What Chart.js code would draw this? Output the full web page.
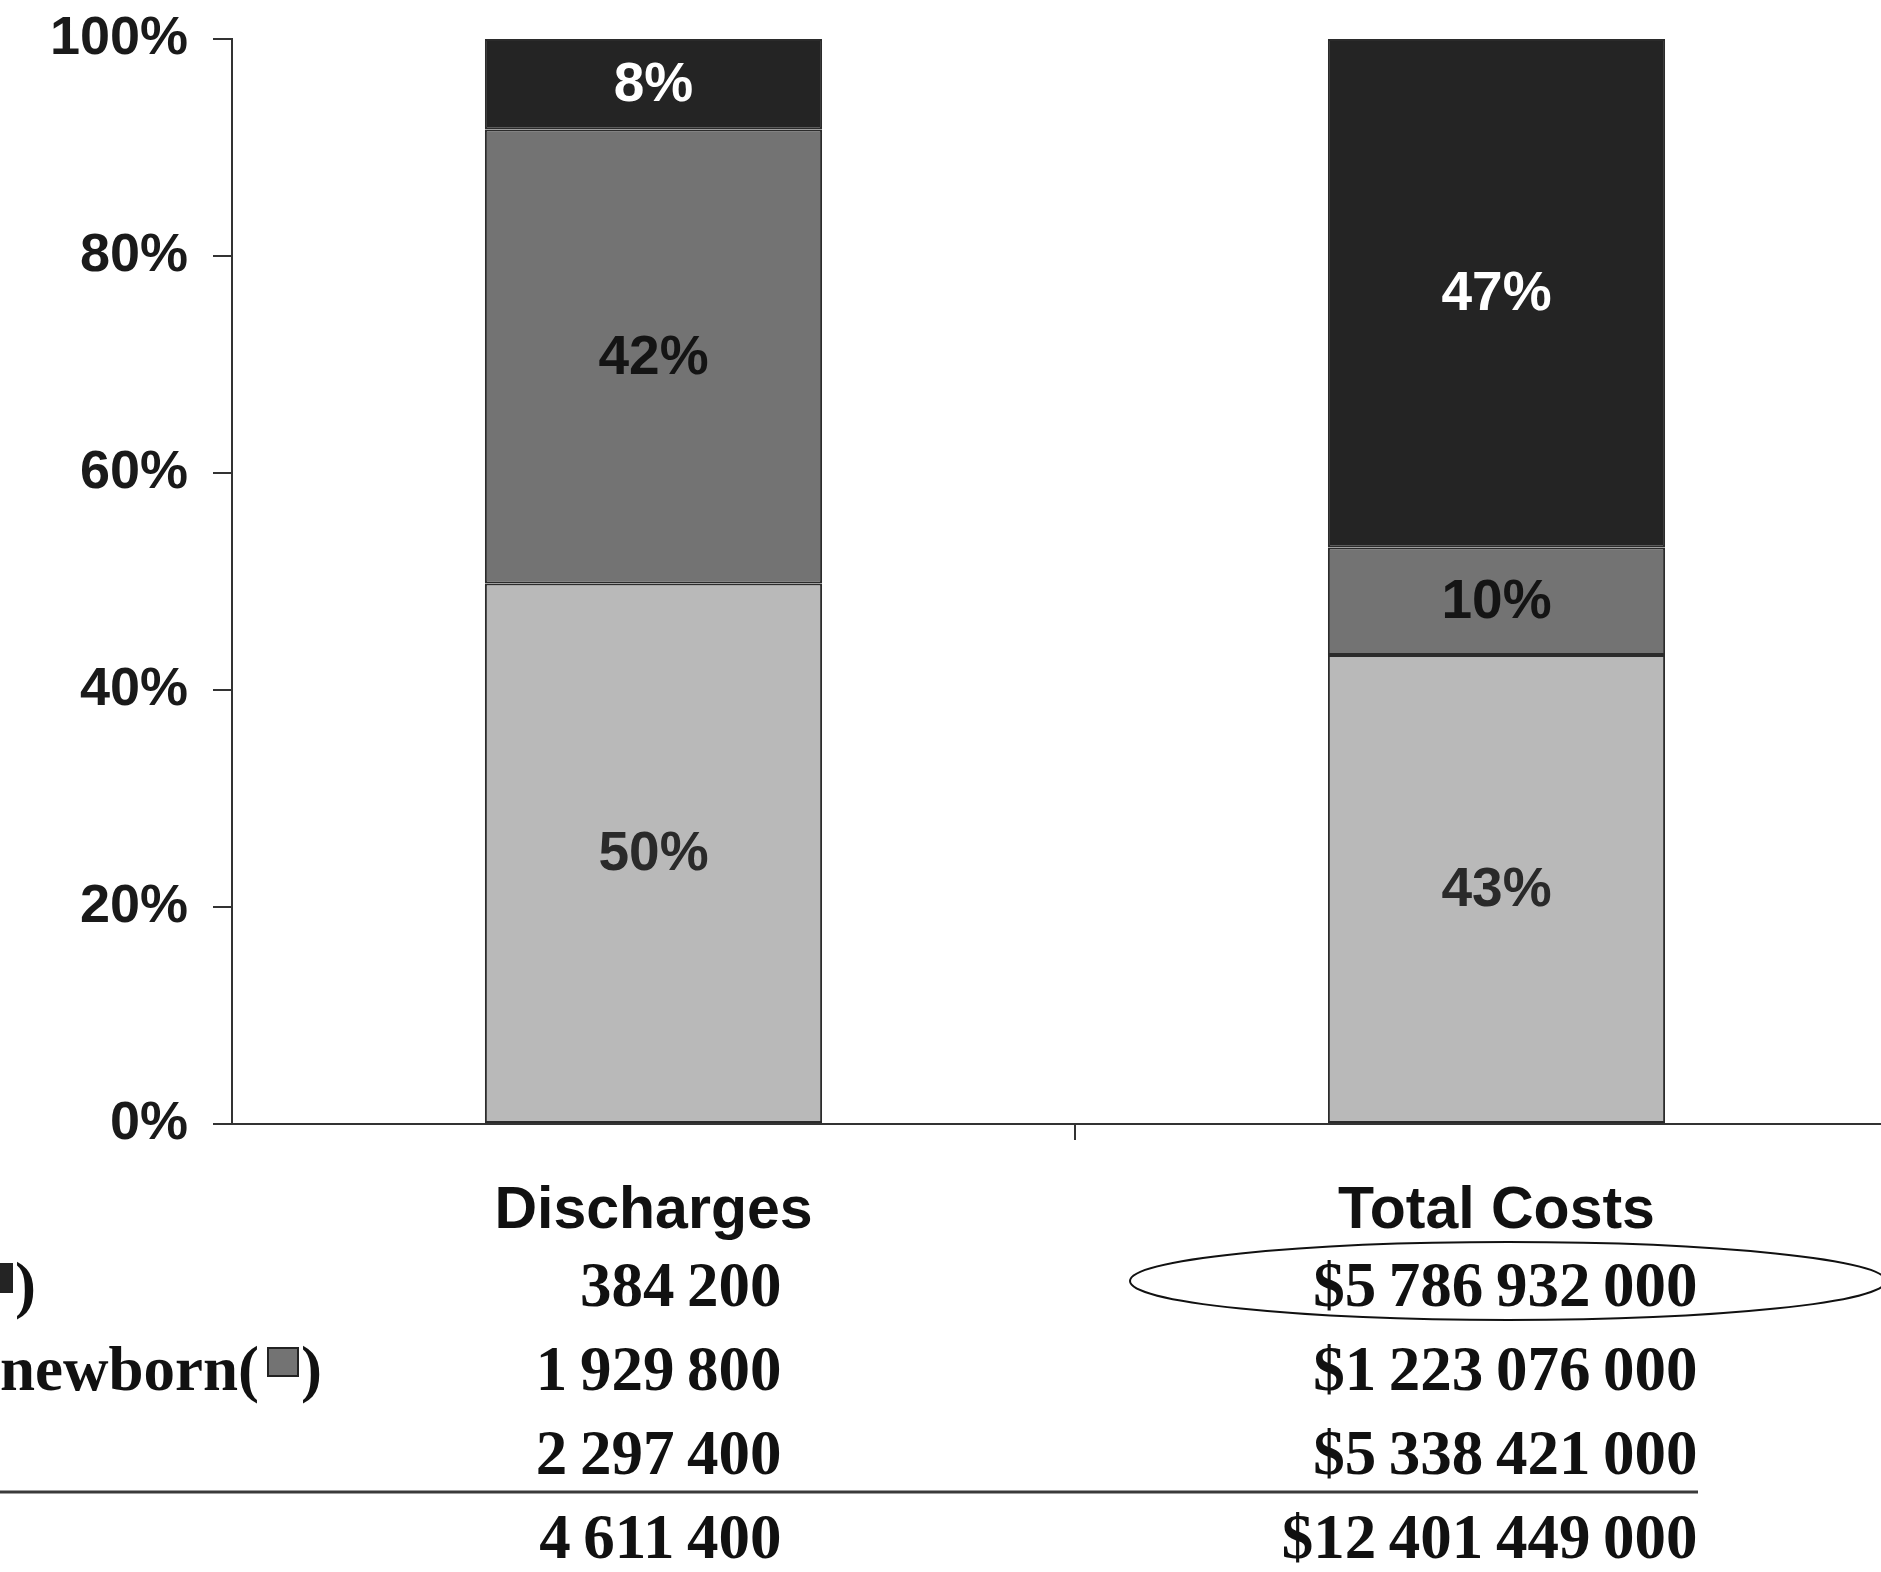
<!DOCTYPE html>
<html>
<head>
<meta charset="utf-8">
<script src="https://cdn.jsdelivr.net/npm/chart.js@4.4.1/dist/chart.umd.min.js"></script>
<style>
  html, body { margin: 0; padding: 0; background: #fff; overflow: hidden; }
  #wrap { width: 1881px; height: 1572px; overflow: hidden; }
  canvas { display: block; }
</style>
</head>
<body>
<div id="wrap"><canvas id="chart" width="1930" height="1572"></canvas></div>
<script>
/* DATA (table rows top -> bottom) */
const categories = ["Discharges", "Total Costs"];
const rowLabels = ["Preterm/LBW (", "Uncomplicated newborn(", null];
const discharges = [384200, 1929800, 2297400];
const totalCosts = [5786932000, 1223076000, 5338421000];
const totals = [4611400, 12401449000];   // as printed in the table
const yTicks = [0, 20, 40, 60, 80, 100];

const fills = ["#242424", "#737373", "#b9b9b9"];
const textCols = ["#ffffff", "#141414", "#2a2a2a"];

const sum = a => a.reduce((s, v) => s + v, 0);
const share = (a, i) => a[i] / sum(a) * 100;

function fmt(n){
  return String(n).replace(/\B(?=(\d{3})+(?!\d))/g, "\u2009");
}

// bars stacked bottom -> top: row 3, row 2, row 1
const order = [2, 1, 0];
const datasets = order.map(i => ({
  label: rowLabels[i] || "row" + i,
  row: i,
  data: [share(discharges, i), share(totalCosts, i)],
  backgroundColor: fills[i],
  borderColor: "#2b2b2b",
  borderWidth: 2,
  borderSkipped: false,
  barPercentage: 0.4,
  categoryPercentage: 1
}));

/* LABELS + TABLE */
const extras = {
  id: "extras",
  afterDraw(chart){
    const c = chart.ctx;
    const xs = chart.scales.x;
    c.save();

    // percent labels inside segments
    c.font = "bold 55px 'Liberation Sans', Arial, sans-serif";
    c.textAlign = "center";
    c.textBaseline = "middle";
    chart.data.datasets.forEach((ds, d) => {
      chart.getDatasetMeta(d).data.forEach((bar, j) => {
        c.fillStyle = textCols[ds.row];
        c.fillText(Math.round(ds.data[j]) + "%", bar.x, (bar.y + bar.base) / 2 + 2);
      });
    });

    // table
    const base = [1306, 1390, 1474, 1558];
    const right = [xs.getPixelForValue(0) + 128, xs.getPixelForValue(1) + 201];
    c.font = "bold 63px 'Liberation Serif', 'Times New Roman', serif";
    c.textBaseline = "alphabetic";
    c.fillStyle = "#111";
    c.textAlign = "right";
    const cols = [discharges.concat([totals[0]]), totalCosts.concat([totals[1]])];
    cols.forEach((col, k) => {
      col.forEach((v, r) => {
        c.fillText((k ? "$" : "") + fmt(v), right[k], base[r]);
      });
    });

    // row labels with colour key squares
    const keyRight = [36, 322];
    rowLabels.forEach((t, r) => {
      if(!t) return;
      const x = keyRight[r];
      c.textAlign = "right";
      c.fillText(")", x, base[r]);
      const sq = x - 24 - 30;
      c.fillStyle = fills[r];
      c.fillRect(sq, base[r] - 42, 30, 28);
      c.strokeStyle = "#222";
      c.lineWidth = 2;
      c.strokeRect(sq, base[r] - 42, 30, 28);
      c.fillStyle = "#111";
      c.fillText(t, sq - 9, base[r]);
    });

    // rule above total
    c.strokeStyle = "#3a3a3a";
    c.lineWidth = 3;
    c.beginPath();
    c.moveTo(0, 1492);
    c.lineTo(1698, 1492);
    c.stroke();

    // highlight ellipse round preterm cost
    c.strokeStyle = "#111";
    c.lineWidth = 2;
    c.beginPath();
    c.ellipse(1508, 1281, 378, 39, 0, 0, Math.PI * 2);
    c.stroke();

    c.restore();
  }
};

new Chart(document.getElementById("chart"), {
  type: "bar",
  data: { labels: categories, datasets: datasets },
  options: {
    responsive: false,
    animation: false,
    layout: { padding: { top: 39, right: 12, left: 0, bottom: 0 } },
    plugins: { legend: { display: false }, tooltip: { enabled: false } },
    scales: {
      x: {
        stacked: true,
        offset: true,
        afterFit: s => { s.height = 448; s.paddingLeft = 0; s.paddingRight = 0; },
        border: { color: "#333", width: 2 },
        grid: {
          offset: true,
          drawOnChartArea: false,
          tickLength: 16,
          lineWidth: 2,
          color: ctx => ctx.index === 1 ? "#333" : "rgba(0,0,0,0)"
        },
        ticks: {
          padding: 36,
          color: "#111",
          font: { family: "'Liberation Sans', Arial, sans-serif", size: 59, weight: "bold" }
        }
      },
      y: {
        stacked: true,
        min: 0,
        max: 100,
        afterFit: s => { s.width = 232; s.paddingTop = 0; s.paddingBottom = 0; },
        afterBuildTicks: s => { s.ticks = yTicks.map(v => ({ value: v })); },
        border: { color: "#333", width: 2 },
        grid: { drawOnChartArea: false, tickLength: 19, lineWidth: 2, color: "#333" },
        ticks: {
          padding: 25,
          color: "#1a1a1a",
          font: { family: "'Liberation Sans', Arial, sans-serif", size: 54, weight: "bold" },
          callback: v => v + "%"
        }
      }
    }
  },
  plugins: [extras]
});
</script>
</body>
</html>
